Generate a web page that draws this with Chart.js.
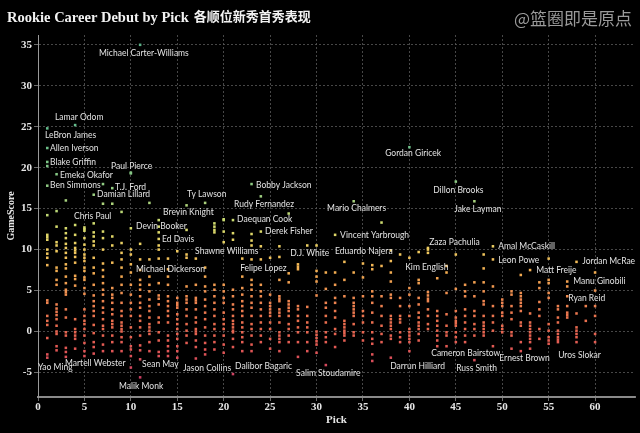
<!DOCTYPE html>
<html>
<head>
<meta charset="utf-8">
<script src="https://cdn.jsdelivr.net/npm/chart.js@4"></script>
<style>
  html, body { margin: 0; padding: 0; background: #000; }
  #wrap { width: 640px; height: 433px; }
</style>
</head>
<body>
<div id="wrap"><canvas id="debutChart" width="640" height="433"></canvas></div>
<script>
// draft picks 1..60
const picks = Array.from({ length: 60 }, (_, i) => i + 1);

// rookie debut GameScore per pick (one list per pick)
const gameScores = [
    [24.8, 22.4, 20.7, 20.2, 17.8, 14.2, 11.8, 11.5, 11.2, 10.0, 9.5, 9.0, 8.1, 3.8, 3.5, 1.9, 1.3, 0.8, -0.8, -2.8, -3.2],
    [19.2, 14.7, 12.8, 10.9, 10.5, 9.8, 7.8, 7.4, 6.3, 5.7, 3.3, 2.8, 2.4, 2.0, 1.5, 0.7, 0.0, -0.3, -1.8, -2.3],
    [16.0, 12.6, 12.0, 11.4, 10.7, 10.2, 9.6, 9.0, 8.2, 7.7, 6.7, 5.9, 5.1, 4.8, 4.5, 2.7, 1.7, -0.1, -0.5, -2.0, -2.5, -3.1],
    [25.2, 13.0, 11.8, 10.8, 10.2, 9.9, 9.6, 9.1, 8.4, 6.8, 6.4, 5.6, 1.5, 0.3, -0.1, -0.5, -0.9, -2.1],
    [12.7, 12.5, 12.3, 11.4, 10.6, 10.0, 9.4, 9.0, 8.6, 7.8, 7.4, 6.6, 6.3, 5.3, 4.6, 2.7, 1.9, 1.3, 0.9, 0.3, -0.5, -1.4, -2.4, -3.0],
    [16.7, 13.2, 12.1, 11.6, 11.0, 10.5, 9.0, 7.8, 7.1, 5.7, 4.4, 3.7, 3.1, 2.5, 1.9, 0.8, -0.2, -1.3, -1.9, -2.7],
    [18.0, 15.6, 12.2, 11.4, 10.0, 8.3, 7.5, 6.7, 5.9, 5.1, 4.5, 3.7, 2.9, 2.3, 1.5, 0.7, 0.3, -0.5, -1.6, -2.4],
    [17.5, 15.6, 11.6, 10.5, 8.4, 5.3, 4.5, 4.1, 3.5, 2.7, 2.1, 1.3, 0.9, 0.5, -0.5, -1.3, -2.4],
    [14.6, 10.8, 9.6, 8.8, 7.8, 6.7, 5.7, 4.7, 3.5, 2.5, 1.9, 1.1, 0.7, 0.3, 0.0, -0.7, -1.3, -2.4],
    [19.4, 19.3, 12.6, 10.0, 9.4, 8.2, 7.2, 5.7, 4.5, 3.5, 2.7, 1.9, 0.5, -0.7, -1.8, -2.2, -3.0, -4.4],
    [35.0, 10.7, 8.8, 7.5, 6.3, 5.7, 5.1, 4.3, 3.5, 2.9, 1.9, 1.3, 0.5, -0.5, -1.7, -2.3, -3.4, -5.6],
    [15.7, 8.8, 6.7, 5.7, 4.9, 3.9, 3.1, 2.5, 1.7, 0.9, 0.5, 0.1, -0.3, -1.3, -2.4],
    [13.6, 12.8, 12.1, 11.3, 10.5, 10.0, 8.9, 5.9, 4.4, 4.0, 3.3, 1.7, 1.1, -0.1, -1.1, -2.5, -3.0],
    [8.9, 7.6, 6.7, 5.7, 4.3, 3.7, 3.1, 2.5, 1.9, 1.1, -0.5, -1.1, -1.8, -2.4, -3.0],
    [9.8, 4.1, 3.5, 3.2, 2.9, 2.1, 1.5, 0.9, 0.3, -0.3, -0.9, -1.8, -2.4, -3.2],
    [15.4, 12.4, 9.4, 9.0, 5.5, 4.3, 3.9, 3.5, 2.7, 1.9, 0.9, 0.1, -0.5, -1.4],
    [8.9, 5.7, 4.1, 3.8, 3.5, 2.7, 1.7, 1.1, 0.3, 0.0, -0.3, -1.1, -1.9, -3.3],
    [15.7, 7.8, 6.7, 5.5, 4.9, 3.9, 3.1, 2.3, 1.5, 0.5, -0.5, -1.4, -2.2, -2.8],
    [13.2, 12.8, 12.4, 12.1, 5.7, 5.1, 4.3, 3.5, 2.7, 1.9, 0.9, 0.3, -0.5, -1.3, -2.2],
    [13.7, 13.6, 12.2, 10.9, 5.7, 4.9, 4.1, 3.5, 2.3, 1.5, 0.9, 0.3, -0.5, -1.6, -2.6],
    [13.6, 12.0, 11.2, 5.1, 4.3, 3.3, 2.7, 1.9, 1.3, 0.9, 0.5, 0.1, -0.1, -0.9, -1.9, -5.2],
    [8.9, 6.7, 5.3, 4.5, 3.7, 3.1, 2.5, 1.9, 1.1, 0.5, -0.1, -0.7, -1.3, -2.4],
    [18.0, 11.9, 11.1, 10.5, 8.8, 6.3, 5.7, 5.1, 4.3, 3.5, 2.9, 1.9, 0.9, 0.3, -0.5, -1.6, -2.4],
    [16.5, 12.2, 10.4, 8.8, 5.7, 4.9, 4.3, 3.5, 2.7, 1.9, 1.1, 0.3, -0.5, -1.3],
    [9.0, 4.5, 3.5, 3.1, 2.7, 2.3, 1.9, 1.1, 0.3, -0.9, -2.1],
    [10.4, 9.1, 6.3, 4.3, 4.0, 3.7, 2.7, 2.3, 1.9, 1.1, -0.1, -0.5, -0.9, -1.3, -2.4],
    [14.4, 7.1, 6.0, 3.7, 3.3, 2.9, 2.5, 1.9, 0.9, 0.3, -0.5, -1.3],
    [8.2, 7.9, 7.6, 3.1, 2.7, 1.9, 1.3, 0.5, -0.1, -1.3, -3.1],
    [10.5, 3.0, 1.9, 1.1, 0.5, -0.1, -1.3, -2.4],
    [10.5, 7.4, 6.7, 6.1, 4.4, 0.0, -0.4, -0.8, -1.2, -1.6, -2.6],
    [7.2, 5.2, 3.5, 2.9, 1.9, 1.1, -0.1, -0.7, -1.3, -4.1],
    [11.8, 7.2, 5.7, 4.1, 3.5, 2.5, 1.7, 0.3, -0.3, -1.9],
    [8.5, 6.3, 4.3, 1.3, 0.9, 0.5, 0.1, -0.2, -0.5, -1.1],
    [15.9, 7.2, 4.1, 3.5, 3.1, 2.7, 2.3, 1.9, 0.9, -0.1, -0.5],
    [8.3, 6.6, 4.3, 2.5, 1.9, 1.1, -0.1, -1.1],
    [8.1, 7.6, 4.9, 4.3, 3.5, 2.3, 1.1, -0.1, -0.9, -1.5, -2.8, -3.6],
    [13.3, 8.0, 4.3, 3.1, 1.9, 0.7, -0.3, -1.3],
    [9.9, 8.6, 7.2, 6.1, 4.5, 4.1, 1.9, 1.5, 1.1, 0.7, 0.3, -0.5, -0.9, -3.2],
    [9.4, 4.1, 3.1, 1.9, 1.5, 1.1, -0.1, -0.7, -1.3],
    [22.5, 9.0, 5.3, 4.5, 3.1, 1.9, 0.3, -0.1, -0.5, -0.9, -1.3, -2.4],
    [9.7, 6.3, 5.9, 4.1, 3.3, 2.3, 1.7, 1.1, 0.7, 0.3, -0.3, -1.1],
    [10.2, 10.0, 9.6, 4.8, 4.4, 4.0, 3.7, 2.7, 1.9, 0.9, 0.3],
    [6.5, 2.5, 1.9, 1.3, 0.7, 0.1, -0.5, -1.1, -1.8],
    [8.0, 7.2, 4.7, 2.1, 0.7, -0.1, -0.5, -1.8],
    [18.3, 9.4, 5.2, 2.5, 1.7, 1.3, 1.0, 0.7, -0.1, -0.7, -1.3],
    [5.7, 4.9, 4.3, 2.7, 1.9, 1.1, 0.3, -0.5, -1.3],
    [15.9, 6.0, 4.3, 2.5, 1.9, 0.9, 0.3, -0.5, -3.5],
    [9.4, 7.7, 6.0, 4.9, 3.7, 3.3, 1.9, 1.1, 0.7, 0.3, -0.1, -0.5],
    [10.4, 8.8, 5.5, 3.1, 1.9, 1.1, 0.1, -1.8],
    [3.9, 3.5, 3.1, 2.3, 1.9, 0.7, 0.3, -0.1],
    [4.9, 4.5, 3.1, 2.3, 1.5, -0.1, -0.5, -2.1],
    [6.9, 4.7, 4.3, 3.9, 3.5, 3.1, 2.5, 1.1, 0.7, -1.3, -2.4],
    [7.5, 2.2, 1.1, 0.7, 0.3, -0.1, -0.5, -0.9, -1.3, -2.1],
    [6.0, 5.3, 3.6, 2.7, 1.9, 0.3, -0.9],
    [8.9, 6.3, 5.9, 4.7, 4.1, 0.9, 0.1, -0.7, -1.1, -1.5],
    [3.1, 2.7, 1.7, 1.1, 0.1, -0.3, -0.7, -1.0, -1.3],
    [6.1, 5.5, 4.3, 3.1, 2.3, 2.0, 1.7],
    [8.5, 2.2, 0.5, 0.1, -0.3, -0.7, -1.3],
    [3.1, 1.3],
    [7.2, 5.0, 3.1, 1.9, -0.3, -1.3]
];

// player name labels, anchored (left/middle) at pick / GameScore coordinates
const noteNames = [
    'Michael Carter-Williams', 'Lamar Odom', 'LeBron James', 'Allen Iverson', 'Blake Griffin',
    'Paul Pierce', 'Emeka Okafor', 'Ben Simmons', 'T.J. Ford', 'Damian Lillard',
    'Ty Lawson', 'Bobby Jackson', 'Rudy Fernandez', 'Brevin Knight', 'Daequan Cook',
    'Derek Fisher', 'Chris Paul', 'Devin Booker', 'Ed Davis', 'Shawne Williams',
    'D.J. White', 'Mario Chalmers', 'Vincent Yarbrough', 'Eduardo Najera', 'Gordan Giricek',
    'Dillon Brooks', 'Jake Layman', 'Zaza Pachulia', 'Amal McCaskill', 'Leon Powe',
    'Kim English', 'Matt Freije', 'Jordan McRae', 'Manu Ginobili', 'Ryan Reid',
    'Michael Dickerson', 'Felipe Lopez', 'Yao Ming', 'Martell Webster', 'Sean May',
    'Malik Monk', 'Jason Collins', 'Dalibor Bagaric', 'Salim Stoudamire', 'Darrun Hilliard',
    'Cameron Bairstow', 'Russ Smith', 'Ernest Brown', 'Uros Slokar'
];
const noteX = [
    6.57, 1.83, 0.75, 1.29, 1.29,
    7.87, 2.37, 1.29, 8.3, 6.36,
    16.06, 23.49, 21.12, 13.47, 21.44,
    24.46, 3.88, 10.56, 13.36, 16.92,
    27.16, 31.14, 32.54, 32.0, 37.39,
    42.57, 44.83, 42.13, 49.57, 49.57,
    39.55, 53.66, 58.62, 57.65, 57.11,
    10.56, 21.77, 0.0, 2.91, 11.21,
    8.73, 15.63, 21.23, 27.8, 37.93,
    42.35, 45.04, 49.68, 56.03
];
const noteY = [
    34.0, 26.1, 23.9, 22.4, 20.7,
    20.2, 19.1, 17.8, 17.6, 16.7,
    16.7, 17.8, 15.5, 14.5, 13.7,
    12.2, 14.1, 12.8, 11.3, 9.8,
    9.5, 15.0, 11.8, 9.8, 21.7,
    17.3, 14.9, 10.85, 10.4, 8.66,
    7.8, 7.44, 8.54, 6.1, 4.0,
    7.56, 7.68, -4.4, -3.9, -4.0,
    -6.7, -4.5, -4.3, -5.1, -4.3,
    -2.7, -4.5, -3.3, -2.93
];

const titleLatin = 'Rookie Career Debut by Pick';
const titleChinese = '各顺位新秀首秀表现';
const watermarkText = '@篮圈即是原点';

// colour ramp: low GameScore red -> orange -> yellow -> green
const ramp = [
    [-6, [200, 60, 100]],
    [-2, [226, 88, 84]],
    [1, [232, 108, 78]],
    [4, [238, 136, 80]],
    [7, [242, 170, 80]],
    [10, [240, 204, 96]],
    [13, [210, 220, 110]],
    [17, [150, 205, 130]],
    [24, [100, 190, 140]],
    [36, [90, 175, 135]]
];
function scoreColor(v) {
    if (v <= ramp[0][0]) return `rgb(${ramp[0][1].join(',')})`;
    for (let i = 1; i < ramp.length; i++) {
        if (v <= ramp[i][0]) {
            const t = (v - ramp[i - 1][0]) / (ramp[i][0] - ramp[i - 1][0]);
            const a = ramp[i - 1][1], b = ramp[i][1];
            const c = a.map((ch, k) => Math.round(ch + (b[k] - ch) * t));
            return `rgb(${c.join(',')})`;
        }
    }
    return `rgb(${ramp[ramp.length - 1][1].join(',')})`;
}

const points = [];
picks.forEach((p, i) => {
    gameScores[i].forEach(v => points.push({ x: p, y: v }));
});

const backdrop = {
    id: 'backdrop',
    beforeDraw(chart) {
        const ctx = chart.ctx;
        ctx.save();
        ctx.fillStyle = '#000';
        ctx.fillRect(0, 0, chart.width, chart.height);
        ctx.restore();
    },
    afterDraw(chart) {
        const ctx = chart.ctx;
        ctx.save();
        ctx.textBaseline = 'alphabetic';
        ctx.fillStyle = '#f2f2f2';
        ctx.font = "bold 14.5px 'Liberation Serif'";
        ctx.fillText(titleLatin, 7, 22);
        const w = ctx.measureText(titleLatin).width;
        ctx.font = "bold 13px 'Noto Sans CJK SC'";
        ctx.fillText(titleChinese, 7 + w + 5, 21);
        ctx.fillStyle = '#9a9a9a';
        ctx.font = "17px 'Noto Sans CJK SC'";
        ctx.textAlign = 'right';
        ctx.fillText(watermarkText, 632, 25);
        ctx.restore();
    }
};

const notes = {
    id: 'notes',
    afterDatasetsDraw(chart) {
        const { ctx, scales } = chart;
        ctx.save();
        ctx.font = "8.5px 'Lato'";
        ctx.fillStyle = '#e2e2e2';
        ctx.textBaseline = 'middle';
        ctx.textAlign = 'left';
        noteNames.forEach((name, i) => {
            ctx.fillText(name, scales.x.getPixelForValue(noteX[i]), scales.y.getPixelForValue(noteY[i]));
        });
        ctx.restore();
    }
};

const tickFont = { family: "'Liberation Serif'", weight: 'bold', size: 11 };

new Chart(document.getElementById('debutChart').getContext('2d'), {
    type: 'scatter',
    data: {
        datasets: [{
            data: points,
            pointStyle: 'rect',
            pointRadius: 1.8,
            borderWidth: 0,
            backgroundColor: ctx => scoreColor(ctx.raw ? ctx.raw.y : 0)
        }]
    },
    options: {
        responsive: false,
        animation: false,
        layout: { padding: { top: 35, right: 5, left: 0, bottom: 0 } },
        plugins: {
            legend: { display: false },
            tooltip: { enabled: false }
        },
        scales: {
            x: {
                type: 'linear',
                min: 0,
                max: 64.3,
                afterBuildTicks: s => { s.ticks = s.ticks.filter(t => t.value % 5 === 0 && t.value <= 60); },
                afterFit: s => { s.height = 36; },
                ticks: { stepSize: 5, includeBounds: false, color: '#e6e6e6', font: tickFont, padding: 0, maxRotation: 0 },
                grid: { color: '#5a5a5a', lineWidth: 0.8, tickLength: 4, tickColor: '#888' },
                border: { display: true, color: '#8a8a8a', width: 2, dash: [2, 2] },
                title: { display: true, text: 'Pick', color: '#e6e6e6', font: { family: "'Liberation Serif'", weight: 'bold', size: 11 }, padding: { top: 0, bottom: 6 } }
            },
            y: {
                type: 'linear',
                min: -8,
                max: 36.2,
                afterBuildTicks: s => { s.ticks = s.ticks.filter(t => t.value % 5 === 0 && t.value >= -5 && t.value <= 35); },
                afterFit: s => { s.width = 38; },
                ticks: { stepSize: 5, includeBounds: false, color: '#e6e6e6', font: tickFont, padding: 2 },
                grid: { color: '#5a5a5a', lineWidth: 0.8, tickLength: 4, tickColor: '#888' },
                border: { display: true, color: '#9a9a9a', width: 1, dash: [2, 2] },
                title: { display: true, text: 'GameScore', color: '#e6e6e6', font: { family: "'Liberation Serif'", weight: 'bold', size: 10 }, padding: { top: 5, bottom: 0 } }
            }
        }
    },
    plugins: [backdrop, notes]
});
</script>
</body>
</html>
